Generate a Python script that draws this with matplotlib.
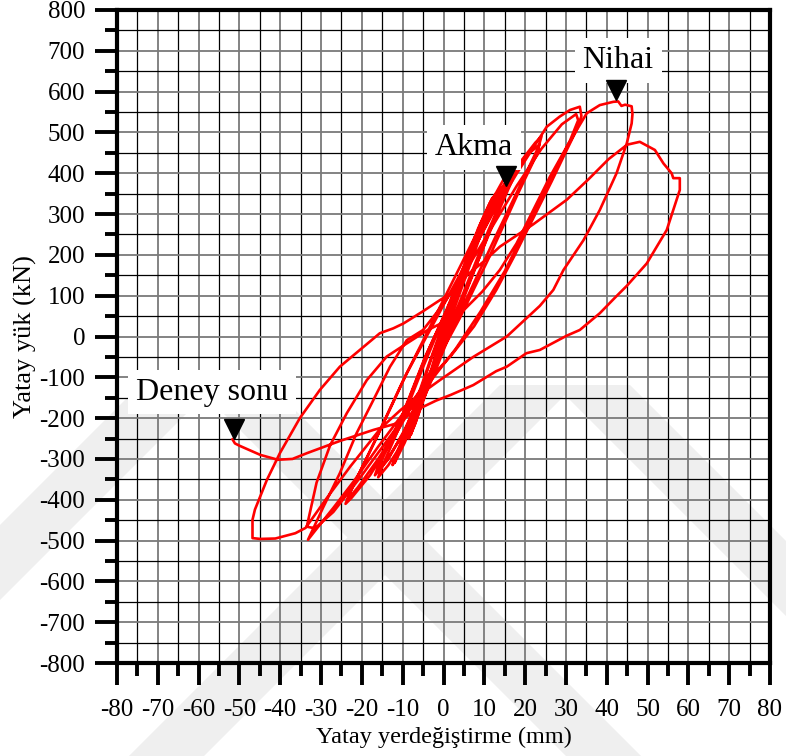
import matplotlib
matplotlib.use("Agg")
import matplotlib.pyplot as plt
from matplotlib.patches import Polygon
from matplotlib.ticker import MultipleLocator
import numpy as np

plt.rcParams["font.family"] = ["Liberation Serif", "DejaVu Serif"]
plt.rcParams["axes.unicode_minus"] = False

# ---- hysteresis record: horizontal displacement (mm) vs horizontal load (kN) ----
c1_disp = [0, 1.2, 2.5, 1.8, 0.3, -1.2, -2.5, -1.8, -0.3]
c1_load = [0, 35, 70, 48, 5, -35, -70, -50, -8]

c2_disp = [-0.3, 1.5, 3.5, 5.0, 4.2, 2.0, 0.0, -2.0, -3.8, -5.0, -4.2, -2.0, 0.0]
c2_load = [-8, 55, 115, 150, 125, 60, 0, -65, -120, -150, -125, -60, 5]

c3_disp = [0.0, 2.5, 5.0, 7.0, 8.0, 7.2, 4.5, 1.5, -1.5, -4.5, -7.0, -8.0, -7.0, -4.0, -1.0]
c3_load = [5, 85, 165, 225, 250, 225, 150, 50, -45, -140, -215, -240, -210, -120, -20]

c3b_disp = [-1.0, 2.0, 4.8, 7.2, 8.5, 7.8, 5.0, 2.0, -1.0, -4.0, -6.8, -8.5, -7.6, -4.6, -1.5]
c3b_load = [-20, 70, 155, 225, 255, 232, 160, 60, -35, -130, -210, -250, -222, -135, -30]

c4_disp = [-1.0, 2.0, 5.5, 9.0, 11.0, 12.0, 11.2, 8.0, 4.0, 0.5, -3.0, -6.5, -9.5, -11.5, -12.0, -10.8, -7.0, -3.0]
c4_load = [-20, 75, 180, 275, 320, 340, 315, 235, 125, 15, -90, -185, -260, -300, -310, -280, -175, -55]

c4b_disp = [-3.0, 0.5, 4.5, 8.5, 11.5, 12.8, 12.0, 8.8, 4.5, 0.0, -4.0, -7.5, -10.5, -12.5, -11.6, -7.8, -3.5]
c4b_load = [-55, 40, 160, 265, 330, 350, 322, 240, 120, -5, -115, -205, -275, -315, -290, -190, -65]

c5_disp = [-3.5, 1.0, 5.0, 9.0, 12.5, 15.0, 17.0, 16.3, 12.5, 7.5, 2.5, -2.0, -6.0, -10.0, -13.5, -16.0, -15.0, -10.5, -5.0]
c5_load = [-65, 60, 170, 270, 345, 390, 410, 385, 290, 160, 30, -85, -180, -260, -315, -345, -318, -215, -75]

c6_disp = [-5.0, 0.0, 5.0, 10.0, 14.0, 16.5, 15.8, 11.0, 5.0, 0.0, -5.0, -10.0, -14.0, -16.0, -15.0, -9.5, -4.0]
c6_load = [-75, 45, 165, 280, 360, 395, 370, 260, 110, -15, -135, -240, -305, -330, -300, -180, -40]

c6b_disp = [-4.0, 0.5, 5.5, 10.5, 15.0, 17.5, 16.8, 12.0, 6.0, 0.5, -4.5, -9.5, -13.5, -16.8, -15.8, -10.0, -4.5]
c6b_load = [-40, 60, 180, 290, 370, 405, 382, 272, 125, 0, -120, -228, -300, -340, -312, -190, -50]

c7_disp = [-4.5, 2.0, 8.0, 14.0, 19.0, 22.5, 24.0, 23.3, 19.5, 13.0, 6.0, 0.0, -6.0, -12.0, -18.0, -22.5, -24.0, -22.8, -17.0, -10.0]
c7_load = [-50, 90, 225, 345, 430, 475, 490, 465, 385, 250, 100, -25, -140, -245, -340, -395, -410, -380, -260, -110]

c8_disp = [-10.0, -4.0, 3.0, 10.0, 16.0, 20.5, 23.5, 22.8, 18.0, 11.0, 4.0, -3.0, -10.0, -16.0, -21.0, -23.5, -22.3, -16.0, -9.0]
c8_load = [-110, 10, 150, 290, 390, 445, 470, 445, 345, 190, 45, -85, -205, -300, -370, -400, -368, -240, -90]

c9_disp = [-9.0, -2.0, 5.0, 12.0, 18.0, 22.5, 25.3, 28.5, 31.0, 33.4, 33.8, 32.6, 30.2, 26.5, 22.0, 17.5,
           13.0, 7.5, 2.0, -4.0, -10.0, -16.0, -22.0, -27.0, -31.0, -33.2, -29.4, -25.4, -21.3, -17.2,
           -13.1, -9.0, -5.0]
c9_load = [-90, 40, 170, 300, 400, 470, 514, 539, 555, 563, 540, 506, 457, 380, 290, 200,
           115, 25, -45, -110, -190, -270, -355, -420, -470, -498, -417, -335, -237, -156,
           -74, -9, 16]

c10_disp = [-5.0, 0.0, 6.0, 12.0, 18.0, 24.0, 29.0, 32.5, 33.0, 31.0, 27.0, 21.0, 15.0, 9.0, 3.0,
            -4.0, -12.0, -20.0, -27.0, -31.5, -33.5, -31.1, -27.8, -23.7, -18.8, -13.9, -9.0, -4.0]
c10_load = [16, 80, 170, 270, 370, 460, 520, 545, 530, 480, 400, 280, 160, 60, -30,
            -120, -230, -340, -430, -470, -466, -358, -267, -188, -107, -49, -17, 15]

c11_disp = [-4.0, 0.0, 5.0, 9.5, 13.8, 17.9, 22.0, 26.1, 30.2, 35.1, 38.3, 41.6, 42.8, 43.6, 44.5,
            46.1, 46.3, 46.1, 44.9, 42.4, 38.3, 34.3, 29.4, 26.9, 23.6, 15.5, 7.3, -0.9, -5.5,
            -10.5, -15.4, -22.8, -28.9, -33.8, -36.3, -41.2, -44.9, -46.8]
c11_load = [15, 35, 65, 110, 163, 228, 310, 392, 465, 547, 567, 575, 576, 565, 568,
            564, 545, 522, 473, 400, 310, 236, 163, 114, 75, 0, -50, -107, -140,
            -180, -225, -318, -400, -469, -482, -495, -496, -494]

c12_disp = [-46.8, -46.8, -46.2, -43.3, -40.1, -35.2, -30.3, -25.4, -20.5, -15.6, -12.3, -9.8, -5.0,
            -0.9, 3.2, 5.7, 10.0, 13.8, 22.0, 30.2, 35.5, 40.5, 45.0, 48.1, 51.8, 53.9, 55.9, 56.3,
            57.9, 57.9, 54.7, 49.8, 45.0, 42.0, 38.3, 33.4, 30.2, 23.6, 20.3, 15.5, 12.9, 7.3, 1.8,
            -1.8, -6.6, -11.5, -17.2, -25.4, -33.5, -37.0, -40.6, -44.9, -49.9, -51.1, -51.7]
c12_load = [-494, -449, -424, -352, -286, -200, -131, -74, -33, 8, 20, 32, 62,
            89, 114, 150, 185, 220, 275, 335, 385, 435, 470, 477, 457, 424, 400, 388,
            388, 359, 261, 179, 125, 95, 57, 16, 2, -33, -41, -74, -85, -119, -143,
            -157, -180, -213, -229, -256, -286, -300, -302, -290, -268, -262, -252]

loops_disp = [c1_disp, c2_disp, c3_disp, c3b_disp, c4_disp, c4b_disp, c5_disp, c6_disp,
              c6b_disp, c7_disp, c8_disp, c9_disp, c10_disp, c11_disp, c12_disp]
loops_load = [c1_load, c2_load, c3_load, c3b_load, c4_load, c4b_load, c5_load, c6_load,
              c6b_load, c7_load, c8_load, c9_load, c10_load, c11_load, c12_load]

# labelled states on the curve
marker_names = ["Nihai", "Akma", "Deney sonu"]
marker_x = [42.3, 15.4, -51.3]
marker_y = [604, 394, -226]
label_x = [42.8, 7.5, -56.7]
label_y = [677, 464, -136]

x_ticks = list(range(-80, 81, 10))
y_ticks = list(range(-800, 801, 100))

W, H = 786, 756
fig = plt.figure(figsize=(W / 100, H / 100), dpi=100)
fig.patch.set_facecolor("white")

# faint diagonal background banding (figure pixel coordinates, y downward)
def band(pts):
    verts = [(x / W, 1 - y / H) for x, y in pts]
    fig.add_artist(Polygon(verts, closed=True, transform=fig.transFigure,
                           facecolor="#efefef", edgecolor="none", zorder=-5))

for a in (140, 500):
    band([(a, 385), (a + 75, 385), (a + 75 - 420, 805), (a - 420, 805)])
    band([(a + 55, 385), (a + 130, 385), (a + 130 + 420, 805), (a + 55 + 420, 805)])

ax = fig.add_axes([117 / W, 1 - 663 / H, (770 - 117) / W, (663 - 10) / H])
ax.set_facecolor("none")

ax.set_xlim(-80, 80)
ax.set_ylim(-800, 800)
ax.xaxis.set_minor_locator(MultipleLocator(5))
ax.yaxis.set_minor_locator(MultipleLocator(50))
ax.set_xticks(x_ticks)
ax.set_yticks(y_ticks)

ax.grid(which="major", color="#7a7a7a", lw=1.3, zorder=0)
ax.grid(which="minor", color="black", lw=0.9, zorder=0)
ax.set_axisbelow(True)

for s in ax.spines.values():
    s.set_linewidth(3.0)
    s.set_zorder(6)

ax.tick_params(which="major", direction="out", length=16, width=2.8,
               labelsize=18, top=False, right=False)
ax.tick_params(axis="x", which="major", pad=10)
ax.tick_params(axis="y", which="major", pad=7)
ax.tick_params(which="minor", direction="out", length=9, width=2.8,
               top=False, right=False)

ax.set_xlabel("Yatay yerdeğiştirme (mm)", fontsize=17.5, labelpad=4)
ax.set_ylabel("Yatay yük (kN)", fontsize=19, labelpad=2)

disp = np.concatenate([np.asarray(d, float) for d in loops_disp])
load = np.concatenate([np.asarray(l, float) for l in loops_load])
ax.plot(disp, load, color="#ff0000", lw=1.9, solid_joinstyle="round", zorder=3)

for name, mx, my, tx, ty in zip(marker_names, marker_x, marker_y, label_x, label_y):
    ax.plot(mx, my, marker="v", color="black", markersize=15, zorder=5, linestyle="none")
    ax.text(tx, ty, name, fontsize=23, ha="center", va="center",
            zorder=4, bbox=dict(boxstyle="square,pad=0.25", fc="white", ec="none"))

fig.savefig("out.png", dpi=100)
